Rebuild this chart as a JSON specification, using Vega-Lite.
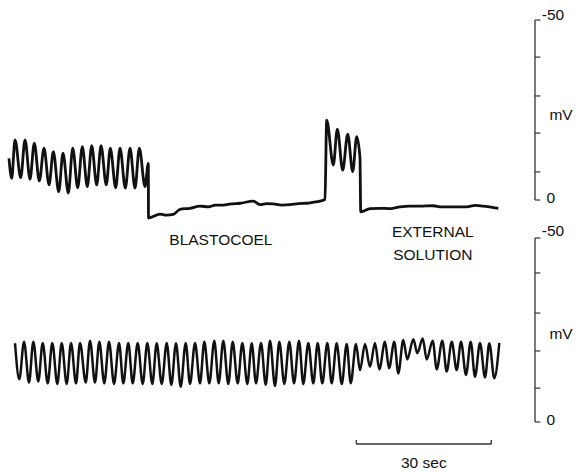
{
  "$schema": "https://vega.github.io/schema/vega-lite/v6.json",
  "width": 580,
  "height": 474,
  "autosize": {"type": "none"},
  "padding": 0,
  "background": "white",
  "config": {"view": {"stroke": null}},
  "datasets": {
    "topTrace": [
      {"t": 0.22, "mv": -11.6}, {"t": 0.82, "mv": -6.0}, {"t": 1.56, "mv": -16.7}, {"t": 2.82, "mv": -6.2},
      {"t": 3.78, "mv": -16.7}, {"t": 4.89, "mv": -5.8}, {"t": 5.84, "mv": -15.8}, {"t": 6.96, "mv": -5.3},
      {"t": 8.0, "mv": -14.4}, {"t": 9.11, "mv": -4.2}, {"t": 10.07, "mv": -13.4}, {"t": 11.27, "mv": -2.3},
      {"t": 12.22, "mv": -13.0}, {"t": 13.4, "mv": -1.9}, {"t": 14.38, "mv": -14.4}, {"t": 15.49, "mv": -3.4},
      {"t": 16.51, "mv": -14.8}, {"t": 17.62, "mv": -3.7}, {"t": 18.6, "mv": -15.1}, {"t": 19.71, "mv": -4.2},
      {"t": 20.67, "mv": -15.1}, {"t": 21.84, "mv": -4.2}, {"t": 22.73, "mv": -14.4}, {"t": 23.93, "mv": -3.4},
      {"t": 24.89, "mv": -14.4}, {"t": 26.07, "mv": -3.3}, {"t": 27.11, "mv": -14.4}, {"t": 28.22, "mv": -3.3},
      {"t": 29.18, "mv": -14.4}, {"t": 30.44, "mv": -3.7}, {"t": 31.18, "mv": -10.2}, {"t": 31.22, "mv": 5.0},
      {"t": 33.78, "mv": 3.9}, {"t": 35.2, "mv": 4.2}, {"t": 36.73, "mv": 4.0}, {"t": 38.22, "mv": 2.6},
      {"t": 40.44, "mv": 2.3}, {"t": 42.67, "mv": 1.7}, {"t": 44.5, "mv": 1.9}, {"t": 46.1, "mv": 1.4},
      {"t": 47.84, "mv": 1.4}, {"t": 49.6, "mv": 1.1}, {"t": 51.56, "mv": 0.9}, {"t": 54.51, "mv": 0.3},
      {"t": 56.0, "mv": 1.3}, {"t": 57.5, "mv": 1.0}, {"t": 58.96, "mv": 1.1}, {"t": 60.8, "mv": 1.4},
      {"t": 62.67, "mv": 1.3}, {"t": 64.5, "mv": 1.0}, {"t": 66.38, "mv": 0.9}, {"t": 67.9, "mv": 0.6},
      {"t": 69.33, "mv": 0.3}, {"t": 70.44, "mv": -0.2}, {"t": 70.82, "mv": -22.2}, {"t": 72.29, "mv": -9.7},
      {"t": 73.18, "mv": -19.7}, {"t": 74.38, "mv": -8.3}, {"t": 75.49, "mv": -18.3}, {"t": 76.6, "mv": -7.9},
      {"t": 77.49, "mv": -17.6}, {"t": 78.22, "mv": -11.6}, {"t": 78.38, "mv": 3.3}, {"t": 80.44, "mv": 2.4},
      {"t": 82.67, "mv": 2.3}, {"t": 85.0, "mv": 2.4}, {"t": 87.11, "mv": 1.9}, {"t": 89.3, "mv": 1.7},
      {"t": 91.56, "mv": 1.7}, {"t": 94.44, "mv": 1.6}, {"t": 96.4, "mv": 1.9}, {"t": 98.22, "mv": 1.9},
      {"t": 101.93, "mv": 1.9}, {"t": 103.8, "mv": 1.5}, {"t": 105.56, "mv": 1.7}, {"t": 108.96, "mv": 2.3}
    ],
    "bottomTrace": [
      {"t": 1.56, "mv": -21.4}, {"t": 2.51, "mv": -11.6}, {"t": 3.56, "mv": -21.8}, {"t": 4.67, "mv": -10.7},
      {"t": 5.62, "mv": -21.8}, {"t": 6.73, "mv": -11.0}, {"t": 7.71, "mv": -21.5}, {"t": 8.82, "mv": -10.5},
      {"t": 9.84, "mv": -21.5}, {"t": 10.96, "mv": -10.3}, {"t": 11.93, "mv": -21.5}, {"t": 13.04, "mv": -10.3},
      {"t": 14.0, "mv": -21.5}, {"t": 15.11, "mv": -10.5}, {"t": 16.0, "mv": -21.5}, {"t": 17.27, "mv": -10.7},
      {"t": 18.22, "mv": -22.1}, {"t": 19.33, "mv": -10.7}, {"t": 20.29, "mv": -21.8}, {"t": 21.4, "mv": -10.5},
      {"t": 22.44, "mv": -21.8}, {"t": 23.56, "mv": -10.3}, {"t": 24.67, "mv": -21.5}, {"t": 25.62, "mv": -10.5},
      {"t": 26.73, "mv": -21.5}, {"t": 27.71, "mv": -10.5}, {"t": 28.82, "mv": -21.5}, {"t": 29.93, "mv": -10.3},
      {"t": 30.96, "mv": -21.5}, {"t": 32.07, "mv": -10.3}, {"t": 33.04, "mv": -21.4}, {"t": 34.16, "mv": -10.3},
      {"t": 35.27, "mv": -21.5}, {"t": 36.29, "mv": -10.1}, {"t": 37.33, "mv": -21.4}, {"t": 38.38, "mv": -9.6},
      {"t": 39.49, "mv": -21.5}, {"t": 40.44, "mv": -10.3}, {"t": 41.56, "mv": -21.5}, {"t": 42.67, "mv": -10.5},
      {"t": 43.62, "mv": -21.8}, {"t": 44.73, "mv": -10.5}, {"t": 45.84, "mv": -22.1}, {"t": 46.82, "mv": -10.5},
      {"t": 47.84, "mv": -22.1}, {"t": 48.96, "mv": -10.3}, {"t": 49.93, "mv": -21.8}, {"t": 51.04, "mv": -10.5},
      {"t": 52.07, "mv": -21.5}, {"t": 53.18, "mv": -10.3}, {"t": 54.16, "mv": -21.4}, {"t": 55.11, "mv": -10.5},
      {"t": 56.22, "mv": -21.5}, {"t": 57.27, "mv": -10.1}, {"t": 58.22, "mv": -22.1}, {"t": 59.33, "mv": -9.8},
      {"t": 60.29, "mv": -21.8}, {"t": 61.4, "mv": -10.3}, {"t": 62.51, "mv": -21.8}, {"t": 63.56, "mv": -10.5},
      {"t": 64.67, "mv": -22.1}, {"t": 65.62, "mv": -10.3}, {"t": 66.73, "mv": -21.5}, {"t": 67.84, "mv": -10.5},
      {"t": 68.82, "mv": -21.5}, {"t": 69.84, "mv": -10.5}, {"t": 70.96, "mv": -21.5}, {"t": 71.93, "mv": -10.5},
      {"t": 73.04, "mv": -21.4}, {"t": 74.16, "mv": -10.3}, {"t": 75.27, "mv": -21.2}, {"t": 76.16, "mv": -10.5},
      {"t": 77.33, "mv": -21.2}, {"t": 78.22, "mv": -14.1}, {"t": 79.33, "mv": -21.2}, {"t": 80.44, "mv": -15.0},
      {"t": 81.56, "mv": -21.5}, {"t": 82.51, "mv": -14.3}, {"t": 83.78, "mv": -21.8}, {"t": 84.67, "mv": -14.6},
      {"t": 85.84, "mv": -21.8}, {"t": 86.73, "mv": -13.2}, {"t": 87.84, "mv": -22.3}, {"t": 88.73, "mv": -17.0},
      {"t": 90.07, "mv": -22.5}, {"t": 90.96, "mv": -18.7}, {"t": 92.16, "mv": -22.7}, {"t": 93.04, "mv": -17.0},
      {"t": 94.38, "mv": -22.1}, {"t": 95.27, "mv": -14.3}, {"t": 96.51, "mv": -22.1}, {"t": 97.49, "mv": -13.7},
      {"t": 98.6, "mv": -21.8}, {"t": 99.71, "mv": -14.1}, {"t": 100.67, "mv": -21.8}, {"t": 101.78, "mv": -12.8},
      {"t": 102.82, "mv": -21.8}, {"t": 103.78, "mv": -12.3}, {"t": 104.89, "mv": -21.5}, {"t": 106.0, "mv": -12.1},
      {"t": 106.96, "mv": -21.4}, {"t": 108.07, "mv": -11.9}, {"t": 109.18, "mv": -21.5}
    ],
    "topTicks": [{"mv": -50}, {"mv": -39.7}, {"mv": -28.9}, {"mv": -18.6}, {"mv": -7.8}, {"mv": 0}],
    "bottomTicks": [{"mv": -50}, {"mv": -40.5}, {"mv": -29.6}, {"mv": -19.3}, {"mv": -9.2}, {"mv": 0}],
    "topText": [
      {"t": 47.3, "mv": 11.1, "label": "BLASTOCOEL"},
      {"t": 94.4, "mv": 8.9, "label": "EXTERNAL"},
      {"t": 94.4, "mv": 15.3, "label": "SOLUTION"},
      {"t": 121.1, "mv": -51.4, "label": "-50"},
      {"t": 122.9, "mv": -23.6, "label": "mV"},
      {"t": 120.6, "mv": -0.6, "label": "0"}
    ],
    "bottomText": [
      {"t": 121.1, "mv": -51.9, "label": "-50"},
      {"t": 122.9, "mv": -23.9, "label": "mV"},
      {"t": 120.6, "mv": -0.5, "label": "0"},
      {"t": 92.4, "mv": 11.1, "label": "30 sec"}
    ],
    "scaleBar": [{"t": 77.4, "t2": 107.4, "mv": 5.98}],
    "scaleEnds": [{"t": 77.4, "mv": 4.9, "mv2": 5.98}, {"t": 107.4, "mv": 4.9, "mv2": 5.98}]
  },
  "resolve": {"scale": {"y": "independent"}},
  "layer": [
    {
      "data": {"name": "topTrace"},
      "mark": {"type": "line", "color": "#111", "strokeWidth": 2.8, "interpolate": "monotone"},
      "encoding": {
        "x": {"field": "t", "type": "quantitative", "axis": null, "scale": {"domain": [-1.78, 127.11], "nice": false, "zero": false}},
        "y": {"field": "mv", "type": "quantitative", "axis": null, "scale": {"domain": [-55.56, 76.11], "reverse": true, "nice": false, "zero": false}}
      }
    },
    {
      "data": {"name": "bottomTrace"},
      "mark": {"type": "line", "color": "#111", "strokeWidth": 2.5, "interpolate": "monotone"},
      "encoding": {
        "x": {"field": "t", "type": "quantitative", "axis": null, "scale": {"domain": [-1.78, 127.11], "nice": false, "zero": false}},
        "y": {"field": "mv", "type": "quantitative", "axis": null, "scale": {"domain": [-114.67, 14.13], "reverse": true, "nice": false, "zero": false}}
      }
    },
    {
      "data": {"values": [{"lo": -50, "hi": 0}]},
      "mark": {"type": "rule", "color": "#333", "strokeWidth": 1.3},
      "encoding": {
        "x": {"datum": 117.11, "type": "quantitative", "axis": null, "scale": {"domain": [-1.78, 127.11], "nice": false, "zero": false}},
        "y": {"field": "lo", "type": "quantitative", "axis": null, "scale": {"domain": [-55.56, 76.11], "reverse": true, "nice": false, "zero": false}},
        "y2": {"field": "hi"}
      }
    },
    {
      "data": {"values": [{"lo": -50, "hi": 0}]},
      "mark": {"type": "rule", "color": "#333", "strokeWidth": 1.3},
      "encoding": {
        "x": {"datum": 117.11, "type": "quantitative", "axis": null, "scale": {"domain": [-1.78, 127.11], "nice": false, "zero": false}},
        "y": {"field": "lo", "type": "quantitative", "axis": null, "scale": {"domain": [-114.67, 14.13], "reverse": true, "nice": false, "zero": false}},
        "y2": {"field": "hi"}
      }
    },
    {
      "data": {"name": "topTicks"},
      "mark": {"type": "rule", "color": "#333", "strokeWidth": 1.2},
      "encoding": {
        "x": {"datum": 117.11, "type": "quantitative", "axis": null, "scale": {"domain": [-1.78, 127.11], "nice": false, "zero": false}},
        "x2": {"datum": 118.3},
        "y": {"field": "mv", "type": "quantitative", "axis": null, "scale": {"domain": [-55.56, 76.11], "reverse": true, "nice": false, "zero": false}}
      }
    },
    {
      "data": {"name": "bottomTicks"},
      "mark": {"type": "rule", "color": "#333", "strokeWidth": 1.2},
      "encoding": {
        "x": {"datum": 117.11, "type": "quantitative", "axis": null, "scale": {"domain": [-1.78, 127.11], "nice": false, "zero": false}},
        "x2": {"datum": 118.3},
        "y": {"field": "mv", "type": "quantitative", "axis": null, "scale": {"domain": [-114.67, 14.13], "reverse": true, "nice": false, "zero": false}}
      }
    },
    {
      "data": {"name": "topText"},
      "mark": {"type": "text", "font": "Liberation Sans", "fontSize": 15.5, "color": "#111", "align": "center", "baseline": "middle"},
      "encoding": {
        "x": {"field": "t", "type": "quantitative", "axis": null, "scale": {"domain": [-1.78, 127.11], "nice": false, "zero": false}},
        "y": {"field": "mv", "type": "quantitative", "axis": null, "scale": {"domain": [-55.56, 76.11], "reverse": true, "nice": false, "zero": false}},
        "text": {"field": "label"}
      }
    },
    {
      "data": {"name": "bottomText"},
      "mark": {"type": "text", "font": "Liberation Sans", "fontSize": 15.5, "color": "#111", "align": "center", "baseline": "middle"},
      "encoding": {
        "x": {"field": "t", "type": "quantitative", "axis": null, "scale": {"domain": [-1.78, 127.11], "nice": false, "zero": false}},
        "y": {"field": "mv", "type": "quantitative", "axis": null, "scale": {"domain": [-114.67, 14.13], "reverse": true, "nice": false, "zero": false}},
        "text": {"field": "label"}
      }
    },
    {
      "data": {"name": "scaleBar"},
      "mark": {"type": "rule", "color": "#333", "strokeWidth": 1.3},
      "encoding": {
        "x": {"field": "t", "type": "quantitative", "axis": null, "scale": {"domain": [-1.78, 127.11], "nice": false, "zero": false}},
        "x2": {"field": "t2"},
        "y": {"field": "mv", "type": "quantitative", "axis": null, "scale": {"domain": [-114.67, 14.13], "reverse": true, "nice": false, "zero": false}}
      }
    },
    {
      "data": {"name": "scaleEnds"},
      "mark": {"type": "rule", "color": "#333", "strokeWidth": 1.3},
      "encoding": {
        "x": {"field": "t", "type": "quantitative", "axis": null, "scale": {"domain": [-1.78, 127.11], "nice": false, "zero": false}},
        "y": {"field": "mv", "type": "quantitative", "axis": null, "scale": {"domain": [-114.67, 14.13], "reverse": true, "nice": false, "zero": false}},
        "y2": {"field": "mv2"}
      }
    }
  ]
}
